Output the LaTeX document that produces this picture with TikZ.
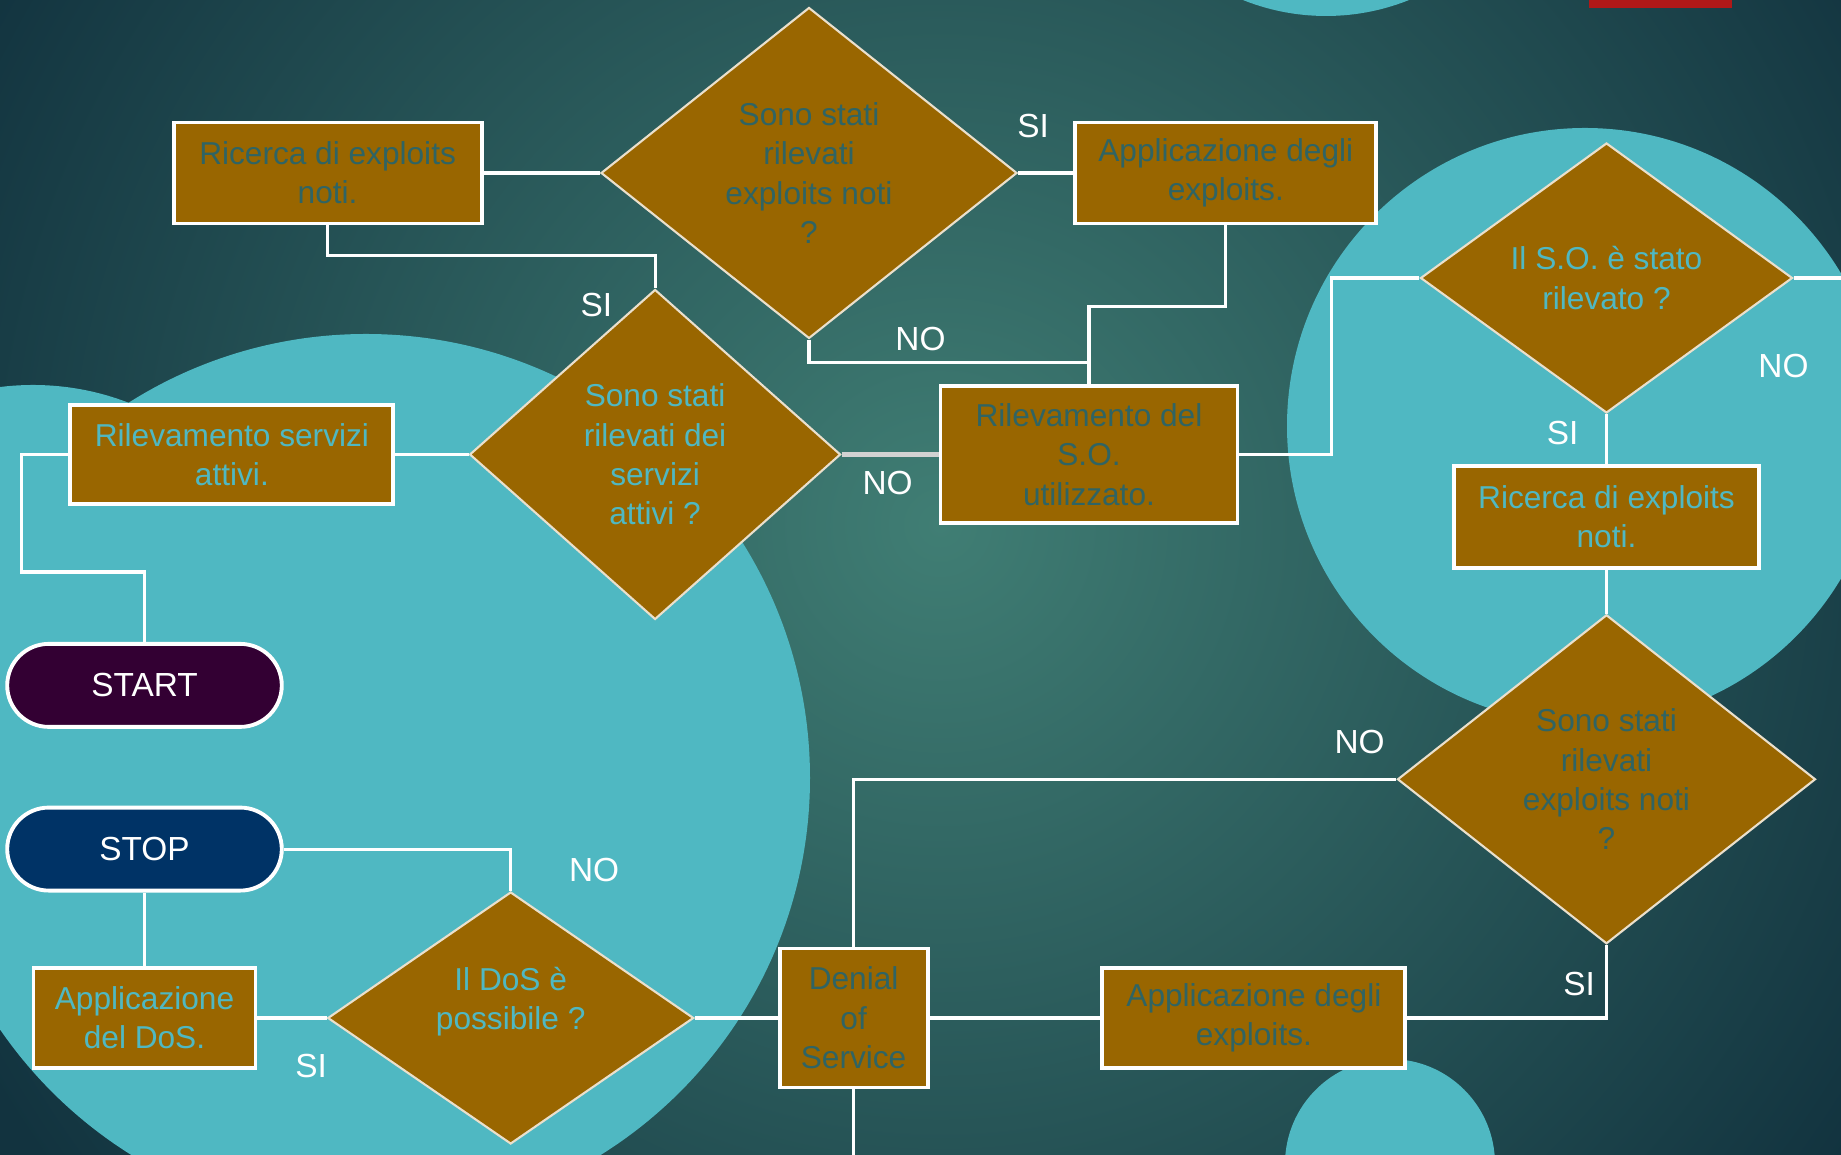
\documentclass[tikz,border=0pt]{standalone}
\usepackage{fontspec}
\setmainfont{Liberation Sans}
\usetikzlibrary{shapes.geometric, shapes.misc, positioning}
\definecolor{bgin}{HTML}{407E74}
\definecolor{bgout}{HTML}{12333F}
\definecolor{bubble}{HTML}{4FB8C2}
\definecolor{boxfill}{HTML}{996600}
\definecolor{darktxt}{HTML}{2F6464}
\definecolor{startfill}{HTML}{330033}
\definecolor{stopfill}{HTML}{003366}
\definecolor{redbar}{HTML}{B01818}

\begin{document}
\begin{tikzpicture}[
      box/.style={rectangle, draw=white, line width=1.1pt, fill=boxfill, inner sep=0pt,
        align=center, font=\fontsize{9}{11.2}\selectfont},
      dec/.style={diamond, aspect=1.4, draw=white!80!boxfill, line width=0.6pt, fill=boxfill,
        inner sep=0pt, align=center, font=\fontsize{9}{11.2}\selectfont},
      term/.style={rounded rectangle, draw=white, line width=1.1pt, minimum width=2.98cm,
        minimum height=0.83cm, text=white, font=\fontsize{9.5}{11}\selectfont},
      lab/.style={text=white, font=\fontsize{9.5}{11}\selectfont},
      wire/.style={draw=white, line width=0.9pt},
      ]

      % background and bubbles
      \useasboundingbox (0,0) rectangle (18.41,11.55);
      \begin{scope}
        \clip (0,0) rectangle (18.41,11.55);
        \fill[bgout] (0,0) rectangle (18.41,11.55);
        \shade[inner color=bgin, outer color=bgout] (9.4,6.3) circle (11);
        \fill[bubble] (3.66,3.77) circle (4.44);
        \fill[bubble] (0.33,5.05) circle (2.65);
        \fill[bubble] (15.85,7.29) circle (2.98);
        \fill[bubble] (13.26,13.62) circle (2.23);
        \fill[bubble] (13.90,-0.09) circle (1.05);
        \fill[redbar] (15.89,11.47) rectangle (17.32,11.55);
      \end{scope}

      \node[term, fill=startfill] (start) at (1.445,4.696) {START};
      \node[term, fill=stopfill]  (stop)  at (1.445,3.059) {STOP};

      \node[box, text=darktxt, minimum width=3.08cm, minimum height=1.01cm] (b_1) at (3.276,9.82) {Ricerca di exploits\\noti.};
      \node[dec, text=darktxt, minimum width=4.16cm, minimum height=3.31cm] (d_1) at (8.090,9.82) {Sono stati\\rilevati\\exploits noti\\?};
      \node[box, text=darktxt, minimum width=3.01cm, minimum height=1.01cm] (b_2) at (12.258,9.82) {Applicazione degli\\exploits.};
      \node[box, text=bubble, minimum width=3.23cm, minimum height=0.99cm] (b_3) at (2.319,7.005) {Rilevamento servizi\\attivi.};
      \node[dec, text=bubble, minimum width=3.71cm, minimum height=3.30cm] (d_2) at (6.551,7.005) {Sono stati\\rilevati dei\\servizi\\attivi ?};
      \node[box, text=darktxt, minimum width=2.97cm, minimum height=1.37cm] (b_4) at (10.890,7.005) {Rilevamento del\\S.O.\\utilizzato.};
      \node[dec, text=bubble, minimum width=3.72cm, minimum height=2.70cm] (d_3) at (16.065,8.77) {Il S.O. è stato\\rilevato ?};
      \node[box, text=bubble, minimum width=3.05cm, minimum height=1.02cm] (b_5) at (16.065,6.381) {Ricerca di exploits\\noti.};
      \node[dec, text=darktxt, minimum width=4.18cm, minimum height=3.29cm] (d_4) at (16.065,3.757) {Sono stati\\rilevati\\exploits noti\\?};
      \node[box, text=darktxt, minimum width=3.03cm, minimum height=1.00cm] (b_6) at (12.539,1.37) {Applicazione degli\\exploits.};
      \node[box, text=darktxt, minimum width=1.48cm, minimum height=1.39cm] (b_7) at (8.536,1.37) {Denial\\of\\Service};
      \node[dec, text=bubble, minimum width=3.66cm, minimum height=2.52cm] (d_5) at (5.107,1.37) {Il DoS è\\possibile ?\\~};
      \node[box, text=bubble, minimum width=2.22cm, minimum height=1.00cm] (b_8) at (1.445,1.37) {Applicazione\\del DoS.};

      \coordinate (gout) at (18.41,8.77);
      \coordinate (kout) at (8.536,0);

      \draw[wire] (b_1.east) -- (d_1.west);
      \draw[wire] (b_1.south) -- ++(0,-0.30) -| (d_2.north);
      \draw[wire] (d_1.east) -- (b_2.west);
      \draw[wire] (d_1.south) -- ++(0,-0.23) -| (b_4.north);
      \draw[wire] (b_2.south) -- ++(0,-0.815) -| (b_4.north);
      \draw[wire, draw=gray!35, line width=1.3pt] (d_2.east) -- (b_4.west);
      \draw[wire] (d_2.west) -- (b_3.east);
      \draw[wire] (b_3.west) -- ++(-0.47,0) |- ([yshift=0.70cm]start.north) -- (start.north);
      \draw[wire] (b_4.east) -- ++(0.92,0) |- (d_3.west);
      \draw[wire] (d_3.east) -- (gout);
      \draw[wire] (d_3.south) -- (b_5.north);
      \draw[wire] (b_5.south) -- (d_4.north);
      \draw[wire] (d_4.west) -| (b_7.north);
      \draw[wire] (d_4.south) |- (b_6.east);
      \draw[wire] (b_6.west) -- (b_7.east);
      \draw[wire] (b_7.west) -- (d_5.east);
      \draw[wire] (b_7.south) -- (kout);
      \draw[wire] (d_5.north) |- (stop.east);
      \draw[wire] (d_5.west) -- (b_8.east);
      \draw[wire] (b_8.north) -- (stop.south);

      \node[lab] (l_1)  at (5.964,8.500)  {SI};
      \node[lab] (l_2)  at (10.332,10.285) {SI};
      \node[lab] (l_3)  at (9.205,8.160)  {NO};
      \node[lab] (l_4)  at (8.876,6.716)  {NO};
      \node[lab] (l_5)  at (17.835,7.890) {NO};
      \node[lab] (l_6)  at (15.627,7.221) {SI};
      \node[lab] (l_7)  at (13.596,4.133) {NO};
      \node[lab] (l_8)  at (15.792,1.714) {SI};
      \node[lab] (l_9)  at (5.941,2.853)  {NO};
      \node[lab] (l_10) at (3.111,0.892)  {SI};
    \end{tikzpicture}
\end{document}
